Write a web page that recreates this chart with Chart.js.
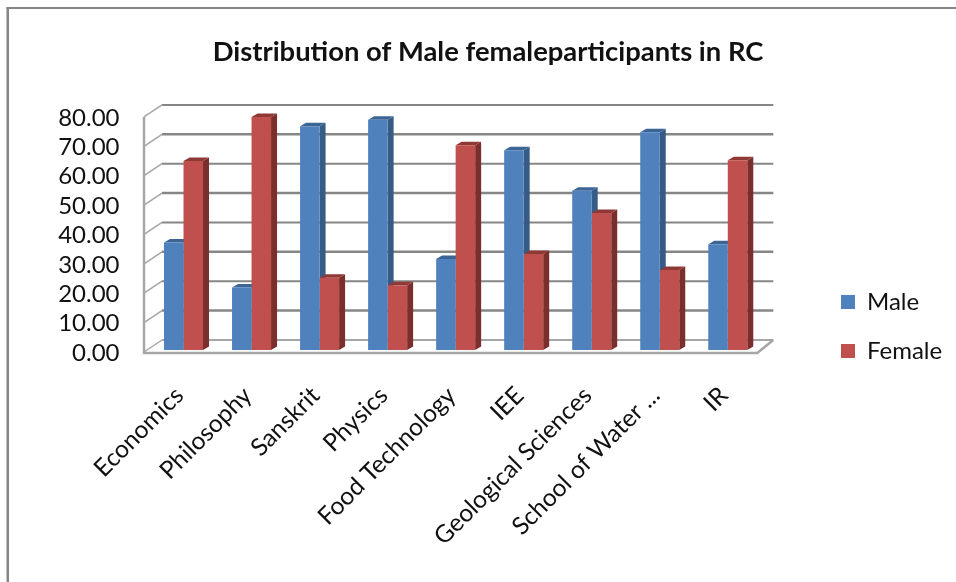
<!DOCTYPE html>
<html>
<head>
<meta charset="utf-8">
<title>Distribution of Male female participants</title>
<script src="https://cdn.jsdelivr.net/npm/chart.js@4"></script>
<style>
    body { margin: 0; background: #fff; }
    canvas { display: block; }
</style>
</head>
<body>
<canvas id="myChart" width="956" height="582"></canvas>
<script>
var categories = ['Economics', 'Philosophy', 'Sanskrit', 'Physics', 'Food Technology', 'IEE', 'Geological Sciences', 'School of Water ...', 'IR'];
var maleValues = [36.6, 21.3, 76.2, 78.4, 31.0, 68.0, 54.2, 74.1, 36.0];
var femaleValues = [64.3, 79.3, 24.6, 22.0, 69.7, 32.7, 46.6, 27.2, 64.6];
var titleText = 'Distribution of Male femaleparticipants in RC';

var fontName = 'Lato, Carlito, sans-serif';

/* fake 3D look: back wall, floor and the bar sides are drawn here,
   the front of every bar is a normal Chart.js bar */
var bars3d = {
    id: 'bars3d',
    afterLayout: function(chart) {
        chart.legend.left = 816;
        chart.legend.right = 956;
        chart.legend.top = 265;
        chart.legend.bottom = 582;
        // tick labels get clipped to the scale box, so widen it to the left
        chart.scales.y.left = 40;
    },
    beforeDraw: function(chart) {
        var ctx = chart.ctx;
        ctx.save();
        ctx.fillStyle = '#fff';
        ctx.fillRect(0, 0, chart.width, chart.height);
        ctx.fillStyle = '#868686';
        ctx.fillRect(6.5, 7, 2.5, chart.height - 7);
        ctx.fillRect(6.5, 7, chart.width - 6.5, 2);
        ctx.restore();
    },
    beforeDatasetsDraw: function(chart) {
        var ctx = chart.ctx;
        var area = chart.chartArea;
        var yScale = chart.scales.y;
        var frontL = area.left - 5.5, backL = area.left + 12.5;
        var frontR = area.right - 4.5, backR = area.right + 11.5;
        ctx.save();

        yScale.ticks.forEach(function(t) {
            var py = yScale.getPixelForValue(t.value);
            ctx.lineWidth = t.value % 20 === 10 ? 2.5 : 2;
            ctx.strokeStyle = '#868686';
            if (t.value === 0) { ctx.strokeStyle = '#a6a6a6'; }
            ctx.beginPath();
            ctx.moveTo(backL, py - 10);
            ctx.lineTo(backR, py - 10);
            ctx.stroke();
            ctx.lineWidth = 1.5;
            ctx.strokeStyle = '#a6a6a6';
            ctx.beginPath();
            ctx.moveTo(frontL, py + 2);
            ctx.lineTo(backL, py - 10);
            ctx.stroke();
        });

        // left edge and floor
        var y0 = yScale.getPixelForValue(0), y80 = yScale.getPixelForValue(80);
        ctx.strokeStyle = '#a6a6a6';
        ctx.lineWidth = 2.5;
        ctx.beginPath();
        ctx.moveTo(frontL, y80 + 2);
        ctx.lineTo(frontL, y0 + 3);
        ctx.lineTo(frontR, y0 + 3);
        ctx.lineTo(backR, y0 - 10);
        ctx.stroke();

        var dx = 6, dy = 3.5;
        var sideCols = ['#365b87', '#7b2f2d'];
        var topCols = ['#3a6595', '#8e3936'];
        for (var i = 0; i < categories.length; i++) {
            for (var d = 0; d < 2; d++) {
                var b = chart.getDatasetMeta(d).data[i];
                var l = b.x - b.width / 2, r = b.x + b.width / 2;
                ctx.fillStyle = sideCols[d];
                ctx.beginPath();
                ctx.moveTo(r, b.y);
                ctx.lineTo(r + dx, b.y - dy);
                ctx.lineTo(r + dx, b.base - dy);
                ctx.lineTo(r, b.base);
                ctx.fill();
                ctx.fillStyle = topCols[d];
                ctx.beginPath();
                ctx.moveTo(l, b.y);
                ctx.lineTo(l + dx, b.y - dy);
                ctx.lineTo(r + dx, b.y - dy);
                ctx.lineTo(r, b.y);
                ctx.fill();
            }
        }
        ctx.restore();
    }
};

var ctx = document.querySelector('#myChart').getContext('2d');
var myChart = new Chart(ctx, {
    type: 'bar',
    data: {
        labels: categories,
        datasets: [{
            label: 'Male',
            data: maleValues,
            backgroundColor: '#4f81bd',
            categoryPercentage: 0.5735,
            barPercentage: 1
        }, {
            label: 'Female',
            data: femaleValues,
            backgroundColor: '#c0504d',
            categoryPercentage: 0.5735,
            barPercentage: 1
        }]
    },
    options: {
        responsive: false,
        animation: false,
        layout: { autoPadding: false, padding: { left: 78, right: 58, top: 0, bottom: 0 } },
        plugins: {
            title: {
                display: true,
                text: titleText,
                color: '#111',
                font: { family: fontName, size: 27.4, weight: 'bold', lineHeight: 1.2 },
                padding: { top: 36, bottom: 46.1 }
            },
            legend: {
                position: 'right',
                align: 'start',
                labels: {
                    color: '#111',
                    font: { family: fontName, size: 24 },
                    boxWidth: 14,
                    boxHeight: 14,
                    padding: 25
                }
            },
            tooltip: { enabled: false }
        },
        scales: {
            x: {
                grid: { display: false },
                border: { display: false },
                ticks: {
                    autoSkip: false,
                    minRotation: 45,
                    maxRotation: 45,
                    padding: 23,
                    labelOffset: -4,
                    color: '#111',
                    font: { family: fontName, size: 24.5 }
                },
                afterFit: function(scale) { scale.height = 232; }
            },
            y: {
                min: 0,
                max: 80,
                grid: { display: false, drawTicks: false },
                border: { display: false },
                ticks: {
                    autoSkip: false,
                    stepSize: 10,
                    padding: 30,
                    labelOffset: 3,
                    color: '#111',
                    font: { family: fontName, size: 24 },
                    callback: function(v) { return Number(v).toFixed(2); }
                },
                afterFit: function(scale) { scale.width = 71.5; }
            }
        }
    },
    plugins: [bars3d]
});
</script>
</body>
</html>
